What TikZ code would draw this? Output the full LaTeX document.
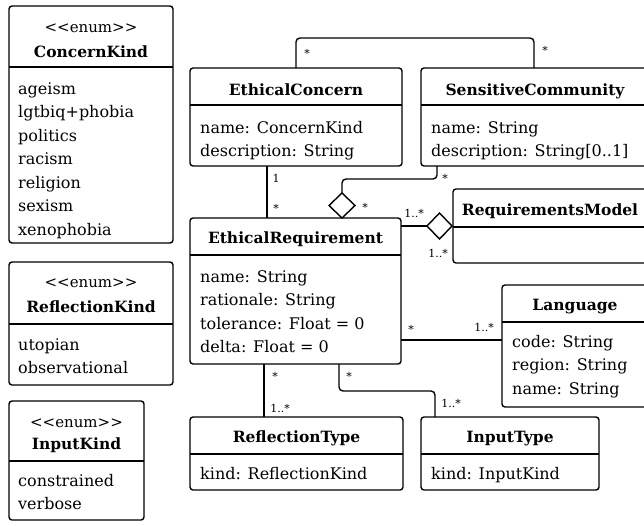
\documentclass[tikz,border=0pt]{standalone}
\usepackage{fontspec}
\setmainfont{DejaVu Serif}
\usetikzlibrary{shapes.geometric}
\begin{document}
\begin{tikzpicture}[x=1pt,y=-1pt,
  box/.style={draw, line width=1.4pt, rounded corners=3pt, anchor=north west, inner sep=0pt, outer sep=0pt},
  sepline/.style={line width=1.4pt},
  ttl/.style={font=\fontsize{15.5}{18}\selectfont\bfseries, anchor=base, inner sep=0pt},
  ster/.style={font=\fontsize{15}{18}\selectfont, anchor=base, inner sep=0pt},
  attr/.style={font=\fontsize{16}{19}\selectfont, anchor=base west, inner sep=0pt},
  mult/.style={font=\fontsize{11}{13}\selectfont, anchor=base, inner sep=0pt},
  assoc/.style={line width=1.4pt, rounded corners=4pt},
  agg/.style={draw, diamond, line width=1.4pt, fill=white, inner sep=0pt, outer sep=0pt}
]
\useasboundingbox (0,0) rectangle (644,525);
\clip (0,0) rectangle (644,525);

% ConcernKind
\node[box, minimum width=164pt, minimum height=237pt] (ck) at (9,6) {};
\draw[sepline] (ck.west |- 0,67) -- (ck.east |- 0,67);
\node[ster] (ckst) at (91,32) {<{}<enum>{}>};
\node[ttl] (ckt) at (91,57) {ConcernKind};
\node[attr] (ck1) at (18,94) {ageism};
\node[attr] (ck2) at (18,117.5) {lgtbiq+phobia};
\node[attr] (ck3) at (18,141) {politics};
\node[attr] (ck4) at (18,164.5) {racism};
\node[attr] (ck5) at (18,188) {religion};
\node[attr] (ck6) at (18,211.5) {sexism};
\node[attr] (ck7) at (18,235) {xenophobia};

% ReflectionKind
\node[box, minimum width=164pt, minimum height=123pt] (rk) at (9,262) {};
\draw[sepline] (rk.west |- 0,324) -- (rk.east |- 0,324);
\node[ster] (rkst) at (91,287) {<{}<enum>{}>};
\node[ttl] (rkt) at (91,312) {ReflectionKind};
\node[attr] (rk1) at (18,350) {utopian};
\node[attr] (rk2) at (18,373.5) {observational};

% InputKind
\node[box, minimum width=135pt, minimum height=119pt] (ik) at (9,401) {};
\draw[sepline] (ik.west |- 0,461) -- (ik.east |- 0,461);
\node[ster] (ikst) at (76.5,427) {<{}<enum>{}>};
\node[ttl] (ikt) at (76.5,449) {InputKind};
\node[attr] (ik1) at (18,486) {constrained};
\node[attr] (ik2) at (18,509.5) {verbose};

% EthicalConcern
\node[box, minimum width=212pt, minimum height=98pt] (ec) at (190,68) {};
\draw[sepline] (ec.west |- 0,105) -- (ec.east |- 0,105);
\node[ttl] (ect) at (296,95) {EthicalConcern};
\node[attr] (ec1) at (200,133) {name: ConcernKind};
\node[attr] (ec2) at (200,156) {description: String};

% SensitiveCommunity
\node[box, minimum width=228pt, minimum height=98pt] (sc) at (421,68) {};
\draw[sepline] (sc.west |- 0,105) -- (sc.east |- 0,105);
\node[ttl] (sct) at (535,95) {SensitiveCommunity};
\node[attr] (sc1) at (431,133) {name: String};
\node[attr] (sc2) at (431,156) {description: String[0..1]};

% EthicalRequirement
\node[box, minimum width=211pt, minimum height=146pt] (er) at (190,218) {};
\draw[sepline] (er.west |- 0,255) -- (er.east |- 0,255);
\node[ttl] (ert) at (295.5,243.5) {EthicalRequirement};
\node[attr] (er1) at (200,282) {name: String};
\node[attr] (er2) at (200,305.5) {rationale: String};
\node[attr] (er3) at (200,329) {tolerance: Float = 0};
\node[attr] (er4) at (200,352.5) {delta: Float = 0};

% RequirementsModel
\node[box, minimum width=196pt, minimum height=74pt] (rm) at (453,189) {};
\draw[sepline] (rm.west |- 0,227) -- (rm.east |- 0,227);
\node[ttl] (rmt) at (550,215) {RequirementsModel};

% Language
\node[box, minimum width=147pt, minimum height=122pt] (lang) at (502,285) {};
\draw[sepline] (lang.west |- 0,322) -- (lang.east |- 0,322);
\node[ttl] (langt) at (575,310) {Language};
\node[attr] (lang1) at (512,347) {code: String};
\node[attr] (lang2) at (512,370.5) {region: String};
\node[attr] (lang3) at (512,394) {name: String};

% ReflectionType
\node[box, minimum width=213pt, minimum height=73pt] (rt) at (190,417) {};
\draw[sepline] (rt.west |- 0,454) -- (rt.east |- 0,454);
\node[ttl] (rtt) at (296.5,442) {ReflectionType};
\node[attr] (rt1) at (200,479) {kind: ReflectionKind};

% InputType
\node[box, minimum width=178pt, minimum height=73pt] (it) at (421,417) {};
\draw[sepline] (it.west |- 0,454) -- (it.east |- 0,454);
\node[ttl] (itt) at (510,442) {InputType};
\node[attr] (it1) at (431,479) {kind: InputKind};

% diamonds
\node[agg, minimum width=26pt, minimum height=25pt] (d1) at (342,205.5) {};
\node[agg, minimum width=25pt, minimum height=26pt] (d2) at (439.5,226) {};

% connectors
\draw[assoc] (ec.north -| 296,0) -- (296,38) -| (sc.north -| 534,0);
\draw[assoc] (ec.south -| 267,0) -- (er.north -| 267,0);
\draw[assoc] (sc.south -| 437,0) -- (437,179) -| (d1.north);
\draw[assoc] (er.east |- d2.west) -- (d2.west);
\draw[assoc] (er.east |- 0,340) -- (lang.west |- 0,340);
\draw[assoc] (er.south -| 264,0) -- (rt.north -| 264,0);
\draw[assoc] (er.south -| 339,0) -- (339,391) -| (it.north -| 435,0);

% multiplicities
\node[mult] (m1) at (307,57) {*};
\node[mult] (m2) at (545,54) {*};
\node[mult] (m3) at (276,182) {1};
\node[mult] (m4) at (276,212) {*};
\node[mult] (m5) at (445,182) {*};
\node[mult] (m6) at (365,211) {*};
\node[mult] (m7) at (414,217) {1..*};
\node[mult] (m8) at (438,257) {1..*};
\node[mult] (m9) at (411,333) {*};
\node[mult] (m10) at (484,331) {1..*};
\node[mult] (m11) at (275,380) {*};
\node[mult] (m12) at (280,412) {1..*};
\node[mult] (m13) at (349,380) {*};
\node[mult] (m14) at (451,407) {1..*};
\end{tikzpicture}
\end{document}
